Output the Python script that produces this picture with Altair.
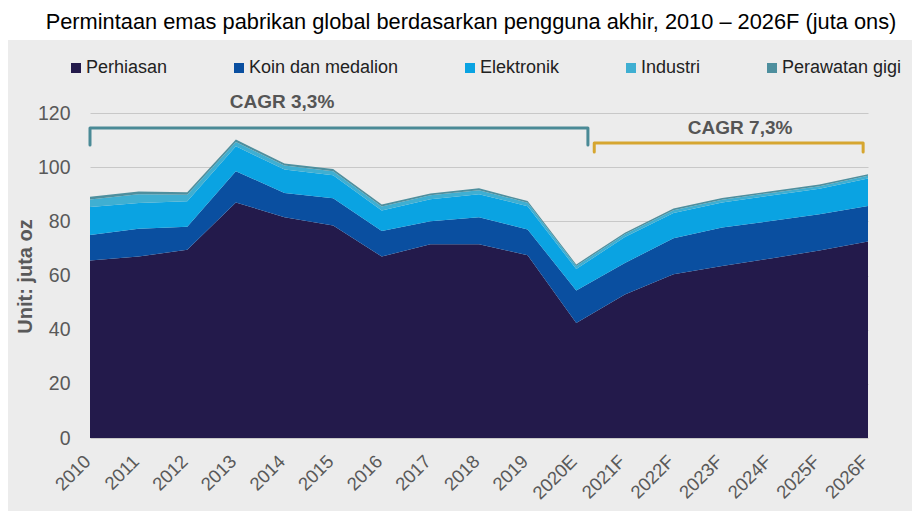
import json
import altair as alt
import pandas as pd

years = ["2010", "2011", "2012", "2013", "2014", "2015", "2016", "2017", "2018",
         "2019", "2020E", "2021F", "2022F", "2023F", "2024F", "2025F", "2026F"]
series = ["Perhiasan", "Koin dan medalion", "Elektronik", "Industri", "Perawatan gigi"]

perhiasan = [65.5, 67.0, 69.5, 87.0, 81.5, 78.5, 67.0, 71.5, 71.5, 67.5, 42.5, 53.0, 60.5, 63.5, 66.3, 69.2, 72.6]
koin = [9.5, 10.3, 8.5, 11.5, 9.0, 10.0, 9.4, 8.5, 10.0, 9.5, 12.0, 11.6, 13.3, 14.2, 13.8, 13.4, 13.1]
elektronik = [10.3, 9.5, 9.4, 9.2, 8.6, 8.5, 7.6, 8.2, 8.5, 8.6, 7.9, 9.6, 9.3, 9.3, 9.4, 9.4, 10.1]
industri = [2.8, 3.2, 2.4, 1.6, 1.5, 1.5, 1.5, 1.4, 1.5, 1.3, 1.1, 1.0, 1.0, 1.0, 1.0, 1.0, 1.0]
perawatan = [1.0, 1.0, 0.9, 0.9, 0.8, 0.8, 0.7, 0.7, 0.7, 0.6, 0.6, 0.6, 0.6, 0.6, 0.6, 0.6, 0.6]
colors = ["#231A4B", "#0A4FA0", "#0AA3E2", "#3FAFD2", "#4E8F9E"]

y_ticks = [0, 20, 40, 60, 80, 100, 120]

cagr_labels = ["CAGR 3,3%", "CAGR 7,3%"]
cagr_label_x = [3.95, 13.37]
cagr_label_y = [124.0, 114.5]
cagr_colors = ["#4A8A96", "#D6A630"]
bracket_start = [0.0, 10.37]
bracket_end = [10.24, 15.9]
bracket_top = [114.5, 108.9]
bracket_foot = [108.2, 105.6]

title_text = "Permintaan emas pabrikan global berdasarkan pengguna akhir, 2010 \u2013 2026F (juta ons)"

values = [perhiasan, koin, elektronik, industri, perawatan]
rows = []
for si, (name, vals) in enumerate(zip(series, values)):
    for i, v in enumerate(vals):
        rows.append({"idx": i, "year": years[i], "series": name, "order": si, "value": v})
df = pd.DataFrame(rows)

brows = []
for b in range(2):
    pts = [(bracket_start[b], bracket_foot[b]), (bracket_start[b], bracket_top[b]),
           (bracket_end[b], bracket_top[b]), (bracket_end[b], bracket_foot[b])]
    for k, (x, y) in enumerate(pts):
        brows.append({"b": cagr_labels[b], "k": k, "x": x, "y": y})
bdf = pd.DataFrame(brows)
tdf = pd.DataFrame({"label": cagr_labels, "x": cagr_label_x, "y": cagr_label_y})

label_expr = json.dumps(years) + "[datum.value]"

x_scale = alt.Scale(domain=[0, len(years) - 1], nice=False, zero=False)
y_scale = alt.Scale(domain=[0, 120], nice=False)

one = pd.DataFrame({"a": [0]})

# white strip above the grey panel (title area)
top_strip = alt.Chart(one).mark_rect(color="#FFFFFF").encode(
    x=alt.value(-90), x2=alt.value(830), y=alt.value(-115), y2=alt.value(-73)
)

title = alt.Chart(one).mark_text(
    text=title_text, fontSize=21.8, color="#000000", align="center", baseline="alphabetic"
).encode(x=alt.value(381), y=alt.value(-84))

area = alt.Chart(df).mark_area(opacity=1).encode(
    x=alt.X("idx:Q", scale=x_scale,
            axis=alt.Axis(values=list(range(len(years))), labelExpr=label_expr, title=None,
                          labelAngle=315, labelAlign="right", labelBaseline="middle",
                          labelPadding=20, labelOffset=-3, tickSize=0, domain=False, grid=False,
                          labelFontSize=18.5, labelColor="#595959", labelOverlap=False)),
    y=alt.Y("value:Q", stack="zero", scale=y_scale,
            axis=alt.Axis(values=y_ticks, title="Unit: juta oz", tickSize=0, domain=False,
                          grid=True, gridColor="#C8C8C8", gridWidth=1.2,
                          labelFontSize=19.5, labelColor="#595959", labelPadding=20,
                          titleFontSize=20, titleFontWeight="bold", titleColor="#595959",
                          titleX=-65, titleY=163, titleAngle=270, titleBaseline="middle",
                          titleAlign="center")),
    color=alt.Color("series:N", scale=alt.Scale(domain=series, range=colors),
                    legend=alt.Legend(orient="none", legendX=-23, legendY=-54,
                                      direction="horizontal", title=None,
                                      symbolType="square", symbolSize=100,
                                      symbolStrokeWidth=0, labelFontSize=18,
                                      labelColor="#222222", labelOffset=1,
                                      labelLimit=300, columnPadding=62)),
    order=alt.Order("order:Q", sort="ascending"),
)

brackets = alt.Chart(bdf).mark_line(strokeWidth=3, strokeJoin="round", strokeCap="round").encode(
    x=alt.X("x:Q", scale=x_scale),
    y=alt.Y("y:Q", scale=y_scale),
    detail="b:N",
    order="k:Q",
    color=alt.Color("b:N", scale=alt.Scale(domain=cagr_labels, range=cagr_colors), legend=None),
)

texts = alt.Chart(tdf).mark_text(fontSize=19, fontWeight="bold", color="#555555",
                                 align="center", baseline="middle").encode(
    x=alt.X("x:Q", scale=x_scale),
    y=alt.Y("y:Q", scale=y_scale),
    text="label:N",
)

chart = alt.layer(top_strip, title, area, brackets, texts).resolve_scale(color="independent").properties(
    width=778, height=325,
    background="#ECECEC",
    autosize=alt.AutoSizeParams(type="none"),
    padding={"left": 82, "top": 105, "right": 44, "bottom": 73},
).configure(font="Liberation Sans").configure_view(stroke=None)

chart.save("out.html", embed_options={"renderer": "svg", "actions": False})
